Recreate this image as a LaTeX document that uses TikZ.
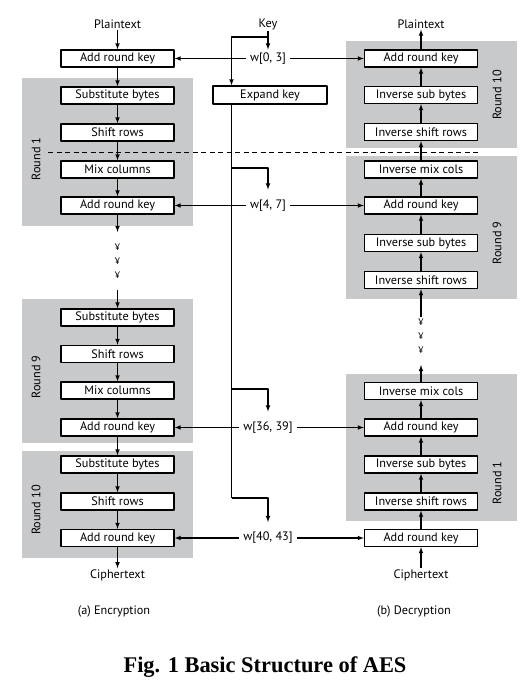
\documentclass[tikz,border=0pt]{standalone}
\usepackage{fontspec}
\setmainfont{PT Sans}
\newfontfamily\figfont{Liberation Serif}
\definecolor{roundgray}{RGB}{200,201,203}
\begin{document}
\begin{tikzpicture}[>=latex,line join=bevel,
  stage/.style={draw,fill=white,line width=1.3bp,minimum width=113bp,minimum height=17bp,inner sep=0pt,font=\fontsize{12.3}{14}\selectfont},
  roundbg/.style={fill=roundgray,draw=none},
  roundlabel/.style={rotate=90,font=\fontsize{12.3}{14}\selectfont},
  ioname/.style={inner sep=1bp,font=\fontsize{12.3}{14}\selectfont},
  keyword/.style={inner xsep=4bp,inner ysep=1bp,font=\fontsize{12.3}{14}\selectfont},
  dots/.style={inner sep=0pt,font=\fontsize{9.5}{10}\selectfont},
  flow/.style={black,line width=1.1bp},
]
\useasboundingbox (0bp,0bp) rectangle (531bp,689bp);
%% round backgrounds
\fill[roundbg] (22bp,463bp) rectangle (193bp,611bp);
\fill[roundbg] (22bp,246bp) rectangle (193bp,390bp);
\fill[roundbg] (22bp,131bp) rectangle (193bp,238bp);
\fill[roundbg] (346bp,541bp) rectangle (517bp,648bp);
\fill[roundbg] (346bp,390bp) rectangle (517bp,533bp);
\fill[roundbg] (346bp,168bp) rectangle (517bp,315bp);
\node (enc_round_1) at (36bp,530bp) [roundlabel] {Round 1};
\node (enc_round_9) at (36bp,312bp) [roundlabel] {Round 9};
\node (enc_round_10) at (36bp,179bp) [roundlabel] {Round 10};
\node (dec_round_10) at (497bp,594bp) [roundlabel] {Round 10};
\node (dec_round_9) at (497bp,446bp) [roundlabel] {Round 9};
\node (dec_round_1) at (497bp,206bp) [roundlabel] {Round 1};
%% encryption
\node (enc_plain) at (117.5bp,665bp) [ioname] {Plaintext};
\node (enc_ark_0) at (117.5bp,630.5bp) [stage] {Add round key};
\node (enc_sub_1) at (117.5bp,593.5bp) [stage] {Substitute bytes};
\node (enc_shift_1) at (117.5bp,556.5bp) [stage] {Shift rows};
\node (enc_mix_1) at (117.5bp,519.5bp) [stage] {Mix columns};
\node (enc_ark_1) at (117.5bp,483.5bp) [stage] {Add round key};
\coordinate (enc_gap_top) at (117.5bp,457bp);
\node (enc_dots_1) at (117.5bp,442bp) [dots] {¥};
\node (enc_dots_2) at (117.5bp,428bp) [dots] {¥};
\node (enc_dots_3) at (117.5bp,414bp) [dots] {¥};
\coordinate (enc_gap_bot) at (117.5bp,399bp);
\node (enc_sub_9) at (117.5bp,371.5bp) [stage] {Substitute bytes};
\node (enc_shift_9) at (117.5bp,335bp) [stage] {Shift rows};
\node (enc_mix_9) at (117.5bp,298.5bp) [stage] {Mix columns};
\node (enc_ark_9) at (117.5bp,261.5bp) [stage] {Add round key};
\node (enc_sub_10) at (117.5bp,224.5bp) [stage] {Substitute bytes};
\node (enc_shift_10) at (117.5bp,187.5bp) [stage] {Shift rows};
\node (enc_ark_10) at (117.5bp,151bp) [stage] {Add round key};
\node (enc_cipher) at (117.5bp,114bp) [ioname] {Ciphertext};
\draw [flow,->] (enc_plain) -- (enc_ark_0);
\draw [flow,->] (enc_ark_0) -- (enc_sub_1);
\draw [flow,->] (enc_sub_1) -- (enc_shift_1);
\draw [flow,->] (enc_shift_1) -- (enc_mix_1);
\draw [flow,->] (enc_mix_1) -- (enc_ark_1);
\draw [flow,->] (enc_ark_1) -- (enc_gap_top);
\draw [flow,->] (enc_gap_bot) -- (enc_sub_9);
\draw [flow,->] (enc_sub_9) -- (enc_shift_9);
\draw [flow,->] (enc_shift_9) -- (enc_mix_9);
\draw [flow,->] (enc_mix_9) -- (enc_ark_9);
\draw [flow,->] (enc_ark_9) -- (enc_sub_10);
\draw [flow,->] (enc_sub_10) -- (enc_shift_10);
\draw [flow,->] (enc_shift_10) -- (enc_ark_10);
\draw [flow,->] (enc_ark_10) -- (enc_cipher);
%% key schedule
\node (key) at (268bp,665bp) [ioname] {Key};
\coordinate (key_split) at (268bp,652bp);
\coordinate (key_bus) at (231.5bp,652bp);
\node (expand_key) at (270bp,594bp) [stage,minimum width=114bp,minimum height=18bp] {Expand key};
\coordinate (bus_top) at (231.5bp,585bp);
\coordinate (bus_1) at (231.5bp,521bp);
\coordinate (bus_9) at (231.5bp,300bp);
\coordinate (bus_10) at (231.5bp,191bp);
\coordinate (branch_1) at (268bp,521bp);
\coordinate (branch_9) at (268bp,300bp);
\coordinate (branch_10) at (268bp,191bp);
\node (w_0_3) at (268bp,630.5bp) [keyword] {w[0, 3]};
\node (w_4_7) at (268bp,483.5bp) [keyword] {w[4, 7]};
\node (w_36_39) at (268bp,261.5bp) [keyword] {w[36, 39]};
\node (w_40_43) at (268bp,151bp) [keyword] {w[40, 43]};
\draw [flow,->,shorten >=2bp] (key) -- (w_0_3);
\draw [flow,->] (key_split) -- (key_bus) -- (key_bus |- expand_key.north);
\draw [flow] (bus_top) -- (bus_10);
\draw [flow,->,shorten >=9bp] (bus_1) -- (branch_1) -- (w_4_7);
\draw [flow,->,shorten >=9bp] (bus_9) -- (branch_9) -- (w_36_39);
\draw [flow,->,shorten >=9bp] (bus_10) -- (branch_10) -- (w_40_43);
\draw [black,line width=0.7bp,dash pattern=on 5bp off 3.5bp] (48bp,536.5bp) -- (478bp,536.5bp);
%% decryption
\node (dec_plain) at (421bp,665bp) [ioname] {Plaintext};
\node (dec_ark_0) at (421bp,630.5bp) [stage] {Add round key};
\node (dec_isb_10) at (421bp,594bp) [stage] {Inverse sub bytes};
\node (dec_isr_10) at (421bp,557bp) [stage] {Inverse shift rows};
\node (dec_imc_9) at (421bp,519.5bp) [stage] {Inverse mix cols};
\node (dec_ark_9) at (421bp,483.5bp) [stage] {Add round key};
\node (dec_isb_9) at (421bp,446bp) [stage] {Inverse sub bytes};
\node (dec_isr_9) at (421bp,409bp) [stage] {Inverse shift rows};
\coordinate (dec_gap_top) at (421bp,372bp);
\node (dec_dots_1) at (421bp,367bp) [dots] {¥};
\node (dec_dots_2) at (421bp,353bp) [dots] {¥};
\node (dec_dots_3) at (421bp,339bp) [dots] {¥};
\coordinate (dec_gap_bot) at (421bp,324bp);
\node (dec_imc_1) at (421bp,298bp) [stage] {Inverse mix cols};
\node (dec_ark_1) at (421bp,261.5bp) [stage] {Add round key};
\node (dec_isb_1) at (421bp,224.5bp) [stage] {Inverse sub bytes};
\node (dec_isr_1) at (421bp,187.5bp) [stage] {Inverse shift rows};
\node (dec_ark_10) at (421bp,151bp) [stage] {Add round key};
\node (dec_cipher) at (421bp,114bp) [ioname] {Ciphertext};
\draw [flow,->] (dec_cipher) -- (dec_ark_10);
\draw [flow,->] (dec_ark_10) -- (dec_isr_1);
\draw [flow,->] (dec_isr_1) -- (dec_isb_1);
\draw [flow,->] (dec_isb_1) -- (dec_ark_1);
\draw [flow,->] (dec_ark_1) -- (dec_imc_1);
\draw [flow,->] (dec_imc_1) -- (dec_gap_bot);
\draw [flow,->] (dec_gap_top) -- (dec_isr_9);
\draw [flow,->] (dec_isr_9) -- (dec_isb_9);
\draw [flow,->] (dec_isb_9) -- (dec_ark_9);
\draw [flow,->] (dec_ark_9) -- (dec_imc_9);
\draw [flow,->] (dec_imc_9) -- (dec_isr_10);
\draw [flow,->] (dec_isr_10) -- (dec_isb_10);
\draw [flow,->] (dec_isb_10) -- (dec_ark_0);
\draw [flow,->] (dec_ark_0) -- (dec_plain);
%% round keys
\draw [flow,->] (w_0_3) -- (enc_ark_0);
\draw [flow,->] (w_0_3) -- (dec_ark_0);
\draw [flow,->] (w_4_7) -- (enc_ark_1);
\draw [flow,->] (w_4_7) -- (dec_ark_9);
\draw [flow,->] (w_36_39) -- (enc_ark_9);
\draw [flow,->] (w_36_39) -- (dec_ark_1);
\draw [flow,->] (w_40_43) -- (enc_ark_10);
\draw [flow,->] (w_40_43) -- (dec_ark_10);
%% captions
\node (enc_caption) at (114bp,78bp) [ioname] {(a) Encryption};
\node (dec_caption) at (414bp,78bp) [ioname] {(b) Decryption};
\node (fig_caption) at (265bp,17bp) [anchor=base,inner sep=0pt,font=\figfont\bfseries\fontsize{22.5}{26}\selectfont] {Fig. 1 Basic Structure of AES};
%
\end{tikzpicture}
\end{document}
